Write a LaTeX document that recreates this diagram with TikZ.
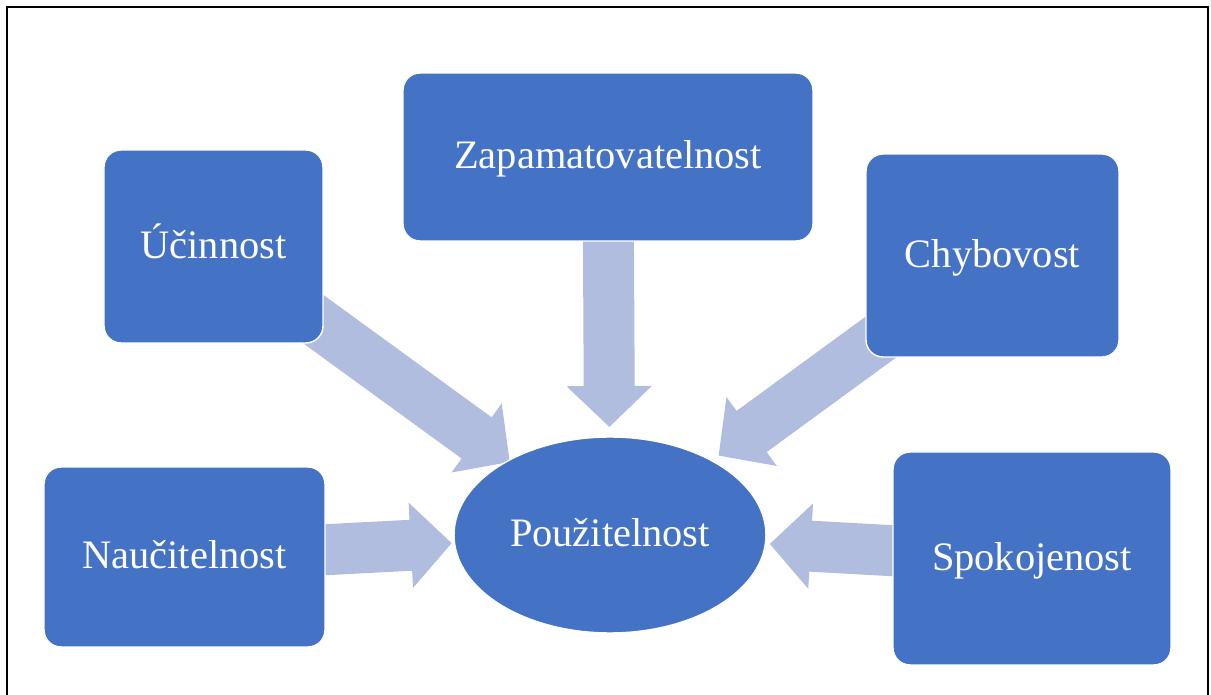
\documentclass[tikz,border=0pt]{standalone}
\usepackage{fontspec}
\setmainfont{Liberation Serif}
\usetikzlibrary{shapes.geometric, arrows.meta, backgrounds}

\definecolor{modra}{HTML}{4472C4}
\definecolor{svetla}{HTML}{B0BDDF}

\begin{document}
\begin{tikzpicture}[x=0.02cm, y=-0.02cm,
  blok/.style={rectangle, rounded corners=0.34cm, fill=modra, draw=white, line width=0.8pt,
    text=white, inner sep=0pt, text height=18pt, text depth=4.4pt,
    font=\fontsize{23}{27}\selectfont},
  sipka/.style={svetla, line width=1.02cm, -{Triangle[width=1.66cm, length=0.82cm]}}]
  \useasboundingbox (0,0) rectangle (1211,695);
  \draw[line width=1.1pt] (7,7) rectangle (1208,720); %ramecek
  % uzly
  \node[blok, ellipse, minimum width=6.24cm, minimum height=3.92cm] (pouz) at (610,535) {Použitelnost};
  \node[blok, minimum width=4.38cm, minimum height=3.86cm] (ucin) at (213.5,246.5) {Účinnost};
  \node[blok, minimum width=8.2cm, minimum height=3.36cm] (zap) at (608,157) {Zapamatovatelnost};
  \node[blok, minimum width=5.06cm, minimum height=4.06cm] (chyb) at (992.5,255.5) {Chybovost};
  \node[blok, minimum width=5.62cm, minimum height=3.6cm] (nauc) at (184.5,557) {Naučitelnost};
  \node[blok, minimum width=5.56cm, minimum height=4.26cm] (spok) at (1032,558.5) {Spokojenost};
  % sipky pod uzly
  \begin{scope}[on background layer]
    \draw[sipka, shorten >=2.48cm] (ucin.center) -- (pouz.center); %ucinnost
    \draw[sipka, shorten >=2.16cm] (zap.center) -- (pouz.center); %zapamatovatelnost
    \draw[sipka, shorten >=2.69cm] (chyb.center) -- (pouz.center); %chybovost
    \draw[sipka, shorten >=3.17cm] (nauc.center) -- (pouz.center); %naucitelnost
    \draw[sipka, shorten >=3.2cm] (spok.center) -- (pouz.center); %spokojenost
  \end{scope}
\end{tikzpicture}
\end{document}
